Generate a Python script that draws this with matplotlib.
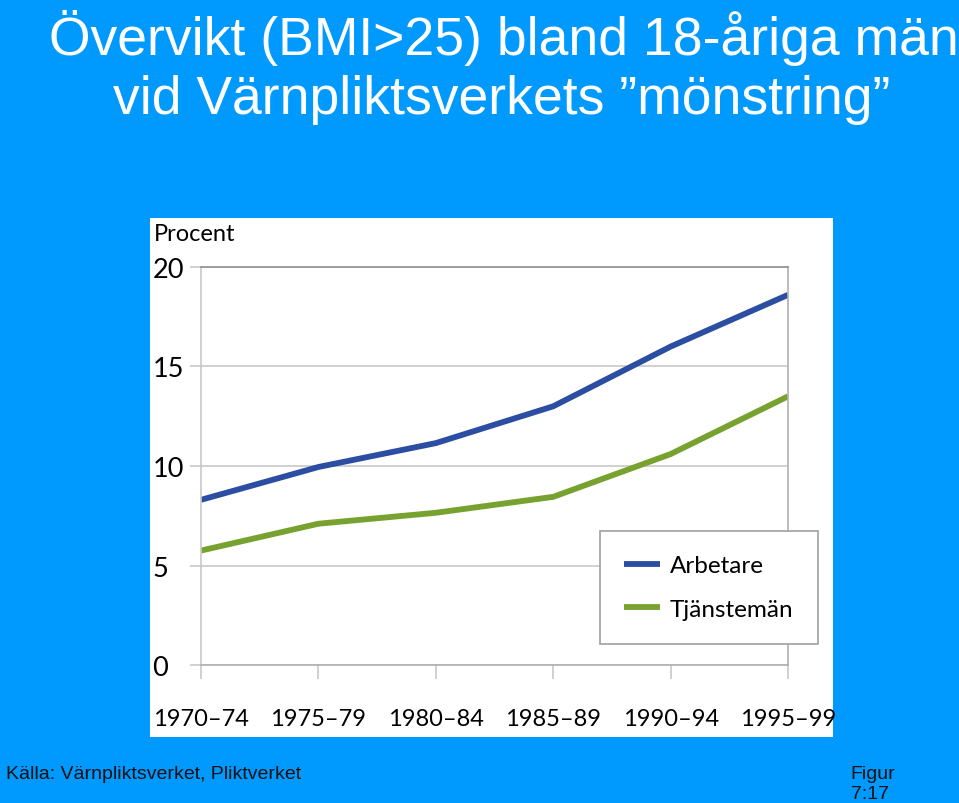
import matplotlib.pyplot as plt
from matplotlib.patches import Rectangle

# ========data
perioder = ["1970–74", "1975–79", "1980–84", "1985–89", "1990–94", "1995–99"]
arbetare = [8.3, 9.95, 11.15, 13.0, 16.0, 18.6]
tjanstemann = [5.75, 7.1, 7.65, 8.45, 10.6, 13.5]
y_ticks = [0, 5, 10, 15, 20]

bg = "#0099fe"
blue = "#2b4ea2"
green = "#78a22f"
grid = "#c8c8c8"
chart_font = ["Lato", "DejaVu Sans"]

fig = plt.figure(figsize=(9.59, 8.04), dpi=100)
fig.patch.set_facecolor(bg)

# white panel behind the chart
fig.patches.append(Rectangle((0.1564, 0.0821), 0.7122, 0.6455, transform=fig.transFigure,
                             facecolor="white", edgecolor="none", zorder=-1))

# ========title
fig.text(0.525, 0.953, "Övervikt (BMI>25) bland 18-åriga män", color="white",
         fontsize=38.5, ha="center", va="center", family="Liberation Sans")
fig.text(0.523, 0.876, "vid Värnpliktsverkets ”mönstring”", color="white",
         fontsize=38.5, ha="center", va="center", family="Liberation Sans")

# ========chart
ax = fig.add_axes([0.2096, 0.1716, 0.6121, 0.4951])
ax.set_facecolor("white")
x = range(len(perioder))
ax.plot(x, arbetare, color=blue, lw=4.2, label="Arbetare", solid_capstyle="butt")
ax.plot(x, tjanstemann, color=green, lw=4.2, label="Tjänstemän", solid_capstyle="butt")

ax.set_xlim(0, len(perioder) - 1)
ax.set_ylim(0, 20)
ax.set_yticks(y_ticks)
ax.set_xticks(list(x))
ax.set_xticklabels(perioder, family=chart_font, fontsize=17)
ax.set_yticklabels([str(v) for v in y_ticks], family=chart_font, fontsize=19.5, ha="left")
ax.tick_params(axis="y", length=8, color=grid, pad=27, width=1.2)
ax.tick_params(axis="x", length=10, color=grid, pad=21, width=1.2)
ax.yaxis.grid(True, color=grid, lw=1.2)
ax.set_axisbelow(True)
for s in ["left", "right", "bottom"]:
    ax.spines[s].set_color("#b0b0b0")
    ax.spines[s].set_linewidth(1.2)
ax.spines["top"].set_color("#909090")
ax.spines["top"].set_linewidth(1.2)
ax.spines["left"].set_color(grid)

fig.text(0.160, 0.708, "Procent", family=chart_font, fontsize=17, ha="left", va="center")

leg = ax.legend(loc="upper left", bbox_to_anchor=(600 / 959, 1 - 532 / 804),
                bbox_transform=fig.transFigure, frameon=True, fancybox=False,
                prop={"family": chart_font, "size": 17.5}, handlelength=1.45, borderpad=1.0,
                labelspacing=0.92, handletextpad=0.42, borderaxespad=0)
leg.get_frame().set_edgecolor("#a0a0a0")
leg.get_frame().set_linewidth(1.2)
leg.get_frame().set_alpha(1)

# ========footer
fig.text(0.006, 0.037, "Källa: Värnpliktsverket, Pliktverket", fontsize=14, color="#111111",
         ha="left", va="center", family="Liberation Sans")
fig.text(0.887, 0.037, "Figur", fontsize=14, color="#111111", ha="left", va="center",
         family="Liberation Sans")
fig.text(0.887, 0.012, "7:17", fontsize=14, color="#111111", ha="left", va="center",
         family="Liberation Sans")

fig.savefig("out.png", dpi=100, facecolor=bg)
